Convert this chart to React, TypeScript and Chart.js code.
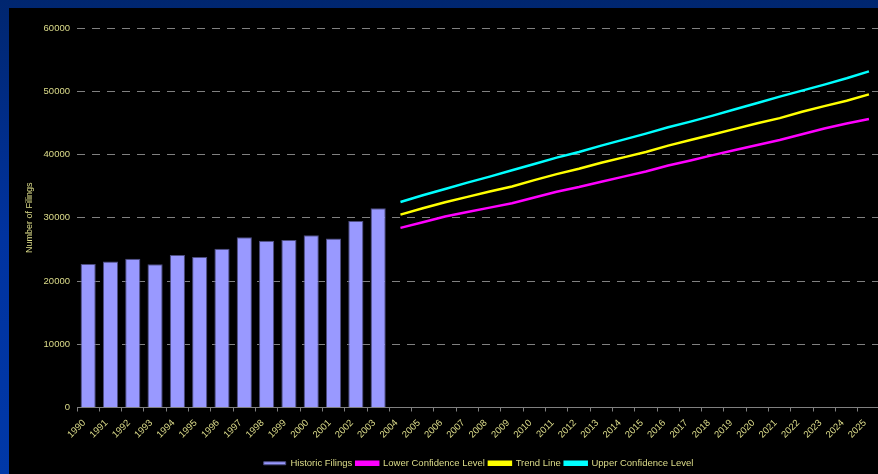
import React, { useEffect, useRef } from "react";
import { Chart, registerables } from "chart.js";
Chart.register(...registerables);

const years = [
  "1990", "1991", "1992", "1993", "1994", "1995", "1996", "1997", "1998", "1999",
  "2000", "2001", "2002", "2003", "2004", "2005", "2006", "2007", "2008", "2009",
  "2010", "2011", "2012", "2013", "2014", "2015", "2016", "2017", "2018", "2019",
  "2020", "2021", "2022", "2023", "2024", "2025",
];

// 1990 - 2003
const historicFilings = [
  22700, 23100, 23500, 22650, 24100, 23800, 25100, 26900, 26350, 26500,
  27250, 26700, 29500, 31500,
];

// 2004 - 2025
const lowerConfidence = [
  28400, 29300, 30200, 30900, 31600, 32300, 33200, 34100, 34850, 35700, 36500,
  37300, 38250, 39050, 39900, 40700, 41500, 42300, 43200, 44100, 44900, 45600,
];
const trendLine = [
  30500, 31500, 32450, 33300, 34150, 34950, 35950, 36900, 37750, 38700, 39550,
  40400, 41400, 42300, 43150, 44050, 44950, 45750, 46750, 47650, 48500, 49500,
];
const upperConfidence = [
  32500, 33550, 34550, 35550, 36500, 37500, 38500, 39500, 40400, 41400, 42350,
  43300, 44300, 45200, 46150, 47150, 48150, 49150, 50100, 51050, 52050, 53150,
];

const yTicks = [0, 10000, 20000, 30000, 40000, 50000, 60000];

const TEXT = "#dcdc8a";
const FONT = "'Liberation Sans', Arial, sans-serif";

export default function App() {
  const ref = useRef<HTMLCanvasElement | null>(null);

  useEffect(() => {
    if (!ref.current) return;
    const histStart = years.indexOf("2004");
    const barData = years.map((_, i) => (i < historicFilings.length ? historicFilings[i] : null));
    const pad = (arr: number[]) => years.map((_, i) => (i >= histStart ? arr[i - histStart] : null));

    const chart = new Chart(ref.current, {
      type: "bar",
      data: {
        labels: years,
        datasets: [
          {
            type: "bar",
            label: "Historic Filings",
            data: barData,
            backgroundColor: "#9999ff",
            borderColor: "#4d4d80",
            borderWidth: 1,
            categoryPercentage: 1,
            barPercentage: 0.68,
          } as any,
          {
            type: "line",
            label: "Lower Confidence Level",
            data: pad(lowerConfidence),
            borderColor: "#ff00ff",
            backgroundColor: "#ff00ff",
            borderWidth: 2.5,
            pointRadius: 0,
            tension: 0,
          },
          {
            type: "line",
            label: "Trend Line",
            data: pad(trendLine),
            borderColor: "#ffff00",
            backgroundColor: "#ffff00",
            borderWidth: 2.5,
            pointRadius: 0,
            tension: 0,
          },
          {
            type: "line",
            label: "Upper Confidence Level",
            data: pad(upperConfidence),
            borderColor: "#00ffff",
            backgroundColor: "#00ffff",
            borderWidth: 2.5,
            pointRadius: 0,
            tension: 0,
          },
        ],
      },
      options: {
        responsive: false,
        animation: false,
        layout: { padding: { top: 20, right: 0, left: 0, bottom: -4 } },
        plugins: {
          tooltip: { enabled: false },
          legend: {
            position: "bottom",
            fullSize: false,
            labels: {
              color: TEXT,
              font: { family: FONT, size: 9.5 },
              boxWidth: 22,
              boxHeight: 3,
              padding: 4,
            },
          },
        },
        scales: {
          x: {
            afterFit: (s: any) => {
              s.height = 47;
            },
            grid: {
              display: true,
              drawOnChartArea: false,
              drawTicks: true,
              tickLength: 4,
              color: "#808080",
              offset: true,
            },
            border: { display: true, color: "#808080", width: 1 },
            ticks: {
              color: TEXT,
              font: { family: FONT, size: 9.5 },
              autoSkip: false,
              maxRotation: 45,
              minRotation: 45,
              padding: 6,
              labelOffset: -4,
            },
          },
          y: {
            min: 0,
            max: 60000,
            afterFit: (s: any) => {
              s.width = 68;
            },
            afterBuildTicks: (s: any) => {
              s.ticks = yTicks.map((v) => ({ value: v }));
            },
            grid: {
              drawTicks: false,
              color: (ctx: any) => (ctx.tick && ctx.tick.value === 0 ? "rgba(0,0,0,0)" : "#808080"),
              lineWidth: 1,
            },
            border: { display: false, dash: [8, 7] },
            ticks: {
              color: TEXT,
              font: { family: FONT, size: 9.5 },
              padding: 7,
              callback: (v: any) => String(v),
            },
            title: {
              display: true,
              text: "Number of Filings",
              color: TEXT,
              font: { family: FONT, size: 9 },
              padding: { top: 15, bottom: 0 },
            },
          },
        },
      },
    });
    return () => chart.destroy();
  }, []);

  return (
    <div
      style={{
        position: "fixed",
        left: 0,
        top: 0,
        width: 878,
        height: 474,
        background: "linear-gradient(180deg, #00266f 0%, #0033a0 50%, #0038a8 100%)",
        overflow: "hidden",
      }}
    >
      <div
        style={{
          position: "absolute",
          left: 9,
          top: 8,
          width: 869,
          height: 466,
          background: "#000",
          overflow: "hidden",
        }}
      >
        <canvas ref={ref} width={874} height={466} style={{ display: "block" }} />
      </div>
    </div>
  );
}
